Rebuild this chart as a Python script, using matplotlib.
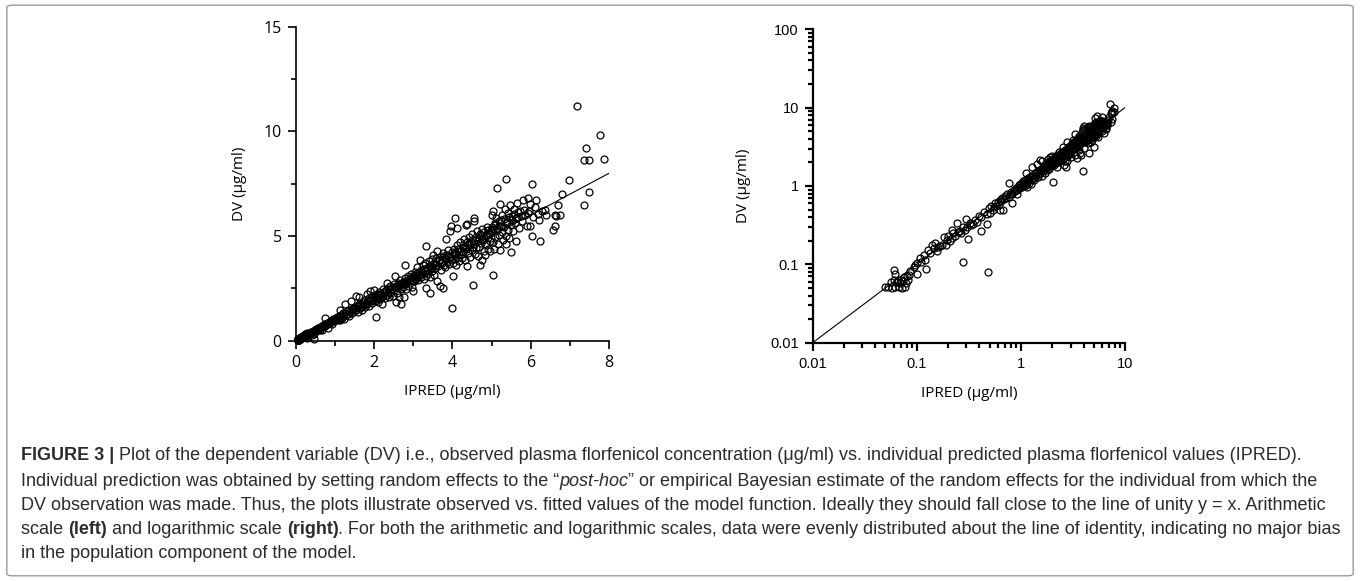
import matplotlib
matplotlib.use("Agg")
import matplotlib.pyplot as plt
from matplotlib.ticker import MultipleLocator, LogLocator, FixedLocator, NullFormatter
from matplotlib.patches import FancyBboxPatch

ipred = [
    0.050, 0.053, 0.058, 0.062, 0.067, 0.072, 0.077, 0.057, 0.060, 0.064, 0.066, 0.071, 0.076, 0.080, 0.060, 0.062,
    0.079, 0.082, 0.069, 0.074, 0.086, 0.084,
    0.093, 0.096, 0.100, 0.101, 0.107, 0.110, 0.116, 0.122, 0.120, 0.129, 0.133, 0.139, 0.145, 0.150, 0.156, 0.161,
    0.168, 0.174, 0.181, 0.190, 0.196,
    0.200, 0.208, 0.217, 0.217, 0.225, 0.232, 0.242, 0.248, 0.260, 0.268, 0.280, 0.280, 0.288, 0.300, 0.305, 0.313,
    0.325, 0.335, 0.350, 0.362, 0.380, 0.395, 0.410, 0.410, 0.440, 0.470, 0.470, 0.480, 0.490,
    0.51, 0.52, 0.54, 0.55, 0.56, 0.58, 0.60, 0.61, 0.63, 0.63, 0.65, 0.66, 0.68, 0.69, 0.70, 0.72,
    0.74, 0.76, 0.76, 0.78, 0.80, 0.82, 0.83, 0.85, 0.87, 0.89, 0.91, 0.92, 0.94, 0.96, 0.97, 0.99,
    1.01, 1.02, 1.04, 1.05, 1.07, 1.08, 1.10, 1.11, 1.13, 1.14, 1.15, 1.17, 1.19, 1.21, 1.22, 1.24,
    1.26, 1.27, 1.29, 1.31, 1.33, 1.35, 1.37, 1.39, 1.42, 1.43, 1.45, 1.47, 1.49, 1.51, 1.53, 1.54,
    1.56, 1.58, 1.60, 1.61, 1.63, 1.65, 1.67, 1.69, 1.71, 1.73, 1.75, 1.77, 1.79, 1.81, 1.83, 1.85,
    1.87, 1.89, 1.91, 1.92, 1.94, 1.96, 1.98,
    2.01, 2.02, 2.04, 2.05, 2.06, 2.08, 2.10, 2.12, 2.14, 2.16, 2.18, 2.20, 2.22, 2.24, 2.26, 2.28,
    2.30, 2.32, 2.34, 2.36, 2.38, 2.40, 2.42, 2.44, 2.46, 2.48, 2.50, 2.52, 2.53, 2.55, 2.57, 2.58,
    2.60, 2.62, 2.63, 2.65, 2.67, 2.69, 2.70, 2.72, 2.74, 2.76, 2.78, 2.79, 2.80, 2.82, 2.84, 2.86,
    2.88, 2.90, 2.92, 2.94, 2.96, 2.98,
    3.00, 3.01, 3.03, 3.05, 3.07, 3.09, 3.11, 3.13, 3.15, 3.17, 3.19, 3.21, 3.23, 3.25, 3.27, 3.29,
    3.31, 3.33, 3.34, 3.34, 3.36, 3.38, 3.40, 3.42, 3.43, 3.45, 3.47, 3.49, 3.51, 3.52, 3.54, 3.56,
    3.58, 3.60, 3.62, 3.64, 3.66, 3.68, 3.70, 3.72, 3.74, 3.76, 3.77, 3.78, 3.80, 3.82, 3.83, 3.85,
    3.87, 3.89, 3.91, 3.93, 3.94, 3.96, 3.97, 3.98, 3.99,
    4.01, 4.02, 4.04, 4.06, 4.07, 4.08, 4.10, 4.11, 4.12, 4.14, 4.16, 4.18, 4.20, 4.22, 4.24, 4.26,
    4.28, 4.30, 4.32, 4.34, 4.35, 4.37, 4.37, 4.39, 4.41, 4.43, 4.45, 4.47, 4.49, 4.51, 4.53, 4.54,
    4.55, 4.56, 4.57, 4.59, 4.61, 4.63, 4.65, 4.67, 4.69, 4.71, 4.72, 4.74, 4.76, 4.77, 4.79, 4.81,
    4.83, 4.85, 4.87, 4.89, 4.91, 4.93, 4.95, 4.96, 4.98, 4.99,
    5.01, 5.02, 5.03, 5.05, 5.05, 5.06, 5.08, 5.10, 5.12, 5.14, 5.15, 5.16, 5.18, 5.20, 5.22, 5.22,
    5.24, 5.26, 5.28, 5.30, 5.32, 5.34, 5.36, 5.37, 5.37, 5.39, 5.41, 5.43, 5.45, 5.47, 5.49, 5.50,
    5.53, 5.56, 5.58, 5.60, 5.63, 5.64, 5.66, 5.70, 5.74, 5.78, 5.81, 5.85, 5.90, 5.94, 5.97, 5.98,
    5.98,
    6.03, 6.04, 6.07, 6.10, 6.14, 6.18, 6.20, 6.25, 6.28, 6.37, 6.40, 6.58, 6.61, 6.62, 6.65, 6.71,
    6.74, 6.81, 6.97, 7.19, 7.36, 7.37, 7.42, 7.50, 7.50, 7.78, 7.86,
    # core of the cloud, just above the unity line
    1.52, 1.64, 1.76, 1.88, 2.03, 2.11, 2.19, 2.27, 2.35, 2.43, 2.51, 2.59, 2.66, 2.73, 2.81, 2.87,
    2.93, 2.99, 3.04, 3.10, 3.16, 3.22, 3.28, 3.35, 3.41, 3.46, 3.53, 3.59, 3.65, 3.71, 3.77, 3.84,
    3.90, 3.95, 4.03, 4.09, 4.15, 4.21, 4.27, 4.33, 4.38, 4.44, 4.50, 4.55, 4.60, 4.66, 4.70, 4.75,
    4.80, 4.86, 4.90, 4.94, 5.00, 5.04, 5.09, 5.13, 5.19, 5.25, 5.31, 5.38, 5.44, 5.52, 5.57, 5.62,
    5.68, 5.76, 5.83, 5.92,
]
dv = [
    0.051, 0.052, 0.050, 0.051, 0.052, 0.050, 0.052, 0.060, 0.063, 0.060, 0.064, 0.063, 0.068, 0.071, 0.084, 0.076,
    0.057, 0.063, 0.058, 0.061, 0.081, 0.074,
    0.093, 0.098, 0.105, 0.075, 0.119, 0.108, 0.131, 0.086, 0.115, 0.153, 0.140, 0.177, 0.160, 0.186, 0.150, 0.168,
    0.172, 0.177, 0.220, 0.178, 0.205,
    0.230, 0.196, 0.215, 0.274, 0.248, 0.230, 0.340, 0.262, 0.270, 0.250, 0.300, 0.106, 0.272, 0.380, 0.300, 0.208,
    0.340, 0.318, 0.330, 0.370, 0.350, 0.410, 0.405, 0.270, 0.460, 0.445, 0.330, 0.080, 0.520,
    0.45, 0.56, 0.50, 0.54, 0.60, 0.55, 0.62, 0.58, 0.66, 0.49, 0.64, 0.70, 0.49, 0.68, 0.74, 0.70,
    0.78, 1.08, 0.72, 0.80, 0.83, 0.60, 0.78, 0.90, 0.86, 0.95, 0.89, 0.80, 0.98, 1.02, 0.93, 1.05,
    0.97, 1.10, 1.02, 1.15, 0.99, 1.08, 1.20, 1.04, 1.48, 0.98, 1.13, 1.25, 1.10, 1.30, 1.18, 1.05,
    1.34, 1.77, 1.22, 1.40, 1.28, 1.18, 1.45, 1.35, 1.91, 1.50, 1.30, 1.55, 1.42, 1.62, 2.15, 1.48,
    1.66, 1.35, 1.72, 2.10, 1.55, 1.80, 1.62, 1.48, 1.85, 1.70, 1.95, 1.60, 1.82, 2.23, 1.75, 2.00,
    1.66, 1.90, 2.36, 2.05, 1.80, 2.12, 1.95,
    2.40, 1.90, 2.15, 1.13, 2.00, 2.25, 1.85, 2.10, 2.35, 1.98, 2.22, 1.75, 2.45, 2.12, 2.30, 2.05,
    2.40, 2.75, 2.20, 2.50, 2.08, 2.35, 2.60, 2.28, 2.48, 2.15, 2.70, 2.40, 3.10, 2.58, 1.85, 2.30,
    2.78, 2.50, 2.07, 2.65, 2.90, 2.45, 1.77, 2.75, 2.58, 2.07, 3.00, 3.60, 2.70, 2.45, 2.85, 3.10,
    2.60, 2.95, 2.75, 3.20, 2.55, 3.05,
    2.36, 3.10, 2.85, 3.30, 2.95, 3.23, 3.50, 2.90, 3.15, 3.84, 3.05, 3.40, 3.20, 3.60, 2.95, 3.35,
    3.70, 3.10, 4.54, 2.52, 3.45, 3.25, 3.80, 3.05, 2.28, 3.55, 3.35, 3.90, 4.11, 3.15, 3.65, 3.45,
    3.95, 2.84, 4.30, 3.55, 3.80, 2.60, 4.05, 3.40, 3.70, 4.20, 2.52, 3.60, 3.95, 3.50, 4.86, 4.10,
    3.75, 4.35, 3.65, 4.00, 5.22, 5.46, 3.85, 1.56, 4.25,
    3.70, 3.07, 4.40, 3.90, 5.85, 4.15, 3.60, 5.38, 4.55, 4.00, 4.30, 3.80, 4.70, 4.15, 3.95, 4.50,
    4.25, 4.85, 3.85, 5.51, 4.40, 3.55, 5.58, 4.60, 4.20, 4.95, 4.00, 4.70, 4.35, 5.10, 2.65, 4.50,
    5.85, 5.70, 4.15, 4.80, 4.45, 5.25, 4.05, 4.90, 4.50, 3.63, 5.05, 4.65, 5.35, 3.87, 4.80, 4.30,
    4.10, 5.00, 4.60, 5.45, 4.40, 5.15, 4.75, 4.30, 5.30, 4.90,
    5.20, 6.02, 4.70, 6.18, 3.14, 4.40, 5.60, 4.95, 5.85, 5.30, 7.28, 4.60, 5.50, 5.05, 6.55, 4.35,
    5.75, 5.20, 6.00, 4.80, 5.45, 6.30, 5.00, 7.72, 4.63, 5.65, 5.30, 6.10, 4.90, 6.50, 4.22, 5.55,
    5.95, 5.25, 6.30, 5.60, 4.75, 6.58, 5.90, 5.40, 6.20, 5.70, 6.74, 6.00, 5.50, 6.82, 6.20, 5.46,
    6.55,
    4.98, 7.49, 5.90, 6.40, 6.74, 6.05, 5.75, 4.76, 6.20, 6.26, 6.00, 5.30, 5.46, 6.02, 5.95, 6.50,
    6.02, 7.01, 7.68, 11.23, 6.47, 8.61, 9.19, 8.61, 7.09, 9.81, 8.68,
    1.58, 1.70, 1.74, 2.02, 2.08, 2.20, 2.05, 2.36, 2.33, 2.45, 2.55, 2.62, 2.72, 2.80, 2.86, 2.92,
    3.00, 2.90, 3.12, 3.05, 3.30, 3.28, 3.42, 3.38, 3.55, 3.48, 3.70, 3.62, 3.85, 3.75, 3.98, 3.88,
    4.10, 4.02, 4.20, 4.12, 4.38, 4.30, 4.55, 4.45, 4.72, 4.58, 4.80, 4.62, 4.95, 4.75, 5.10, 4.85,
    5.20, 5.05, 5.30, 5.12, 5.45, 5.35, 5.55, 5.40, 5.70, 5.50, 5.80, 5.60, 5.90, 5.75, 6.05, 5.85,
    6.15, 5.95, 6.25, 6.10,
]

# line of unity y = x
unity_lin = [0, 8]
unity_log = [0.01, 10]

caption = [
    [("FIGURE 3 | ", "bold", "normal"),
     ("Plot of the dependent variable (DV) i.e., observed plasma florfenicol concentration (\u03bcg/ml) vs. "
      "individual predicted plasma florfenicol values (IPRED).", "normal", "normal")],
    [("Individual prediction was obtained by setting random effects to the \u201c", "normal", "normal"),
     ("post-hoc", "normal", "italic"),
     ("\u201d or empirical Bayesian estimate of the random effects for the individual from which the", "normal", "normal")],
    [("DV observation was made. Thus, the plots illustrate observed vs. fitted values of the model function. "
      "Ideally they should fall close to the line of unity y = x. Arithmetic", "normal", "normal")],
    [("scale ", "normal", "normal"), ("(left)", "bold", "normal"),
     (" and logarithmic scale ", "normal", "normal"), ("(right)", "bold", "normal"),
     (". For both the arithmetic and logarithmic scales, data were evenly distributed about the line of "
      "identity, indicating no major bias", "normal", "normal")],
    [("in the population component of the model.", "normal", "normal")],
]

label_font = ["Open Sans", "DejaVu Sans"]
tick_font_r = ["Liberation Sans", "DejaVu Sans"]
cap_font = ["Liberation Sans", "DejaVu Sans"]

fig = plt.figure(figsize=(13.6, 5.81), dpi=100)

# rounded frame around the whole figure
frame = FancyBboxPatch((0.005, 0.009), 0.99, 0.982, boxstyle="round,pad=0,rounding_size=0.004",
                       transform=fig.transFigure, facecolor="none", edgecolor="#9a9a9a", lw=1.0)
fig.patches.append(frame)

mk = dict(ls="none", marker="o", mfc="none", mec="black", ms=5.0, mew=0.9, clip_on=False)

# ---- left: arithmetic scale
ax1 = fig.add_axes([0.2174, 0.4136, 0.2304, 0.5404])
ax1.plot(unity_lin, unity_lin, color="black", lw=0.8)
ax1.plot(ipred, dv, **mk)
ax1.set_xlim(0, 8)
ax1.set_ylim(0, 15)
ax1.xaxis.set_major_locator(MultipleLocator(2))
ax1.xaxis.set_minor_locator(MultipleLocator(1))
ax1.yaxis.set_major_locator(MultipleLocator(5))
ax1.yaxis.set_minor_locator(MultipleLocator(2.5))
ax1.set_xlabel("IPRED (\u00b5g/ml)", fontsize=11, family=label_font, labelpad=10)
ax1.set_ylabel("DV (\u00b5g/ml)", fontsize=11, family=label_font, labelpad=12)
for lab in ax1.get_xticklabels() + ax1.get_yticklabels():
    lab.set_family(label_font)
    lab.set_fontsize(11.5)

# ---- right: logarithmic scale
ax2 = fig.add_axes([0.5976, 0.4102, 0.2296, 0.5394])
ax2.plot(unity_log, unity_log, color="black", lw=0.8)
ax2.plot(ipred, dv, **mk)
ax2.set_xscale("log")
ax2.set_yscale("log")
ax2.set_xlim(0.01, 10)
ax2.set_ylim(0.01, 100)
ax2.xaxis.set_major_locator(FixedLocator([0.01, 0.1, 1, 10]))
ax2.yaxis.set_major_locator(FixedLocator([0.01, 0.1, 1, 10, 100]))
ax2.xaxis.set_minor_locator(LogLocator(base=10, subs=range(2, 10)))
ax2.yaxis.set_minor_locator(LogLocator(base=10, subs=range(2, 10)))
ax2.xaxis.set_minor_formatter(NullFormatter())
ax2.yaxis.set_minor_formatter(NullFormatter())
ax2.set_xticklabels(["0.01", "0.1", "1", "10"])
ax2.set_yticklabels(["0.01", "0.1", "1", "10", "100"])
ax2.set_xlabel("IPRED (\u00b5g/ml)", fontsize=11, family=label_font, labelpad=11)
ax2.set_ylabel("DV (\u00b5g/ml)", fontsize=11, family=label_font, labelpad=14)
for lab in ax2.get_xticklabels() + ax2.get_yticklabels():
    lab.set_family(tick_font_r)
    lab.set_fontsize(10.5)

for ax, lw in ((ax1, 1.2), (ax2, 1.6)):
    ax.spines["top"].set_visible(False)
    ax.spines["right"].set_visible(False)
    ax.spines["left"].set_linewidth(lw)
    ax.spines["bottom"].set_linewidth(lw)
    ax.tick_params(which="major", direction="out", length=6, width=lw, color="black", pad=4)
    ax.tick_params(which="minor", direction="out", length=3.8, width=lw)

# ---- caption, drawn piece by piece so bold/italic runs line up
renderer = fig.canvas.get_renderer()
W = fig.get_figwidth() * fig.dpi
H = fig.get_figheight() * fig.dpi
cap_size = 13.0
line_y = [456, 481, 505, 530, 554]


def run_width(txt, weight, style):
    a = fig.text(0, 0, "|" + txt + "|", fontsize=cap_size, fontweight=weight, fontstyle=style, family=cap_font)
    b = fig.text(0, 0, "||", fontsize=cap_size, fontweight=weight, fontstyle=style, family=cap_font)
    w = a.get_window_extent(renderer).width - b.get_window_extent(renderer).width
    a.remove()
    b.remove()
    return w


for parts, ypix in zip(caption, line_y):
    xpix = 21
    for txt, weight, style in parts:
        fig.text(xpix / W, 1 - ypix / H, txt, fontsize=cap_size, fontweight=weight, fontstyle=style,
                 family=cap_font, color="#2b2b2b", va="center", ha="left")
        xpix += run_width(txt, weight, style)

fig.savefig("out.png", dpi=100)
